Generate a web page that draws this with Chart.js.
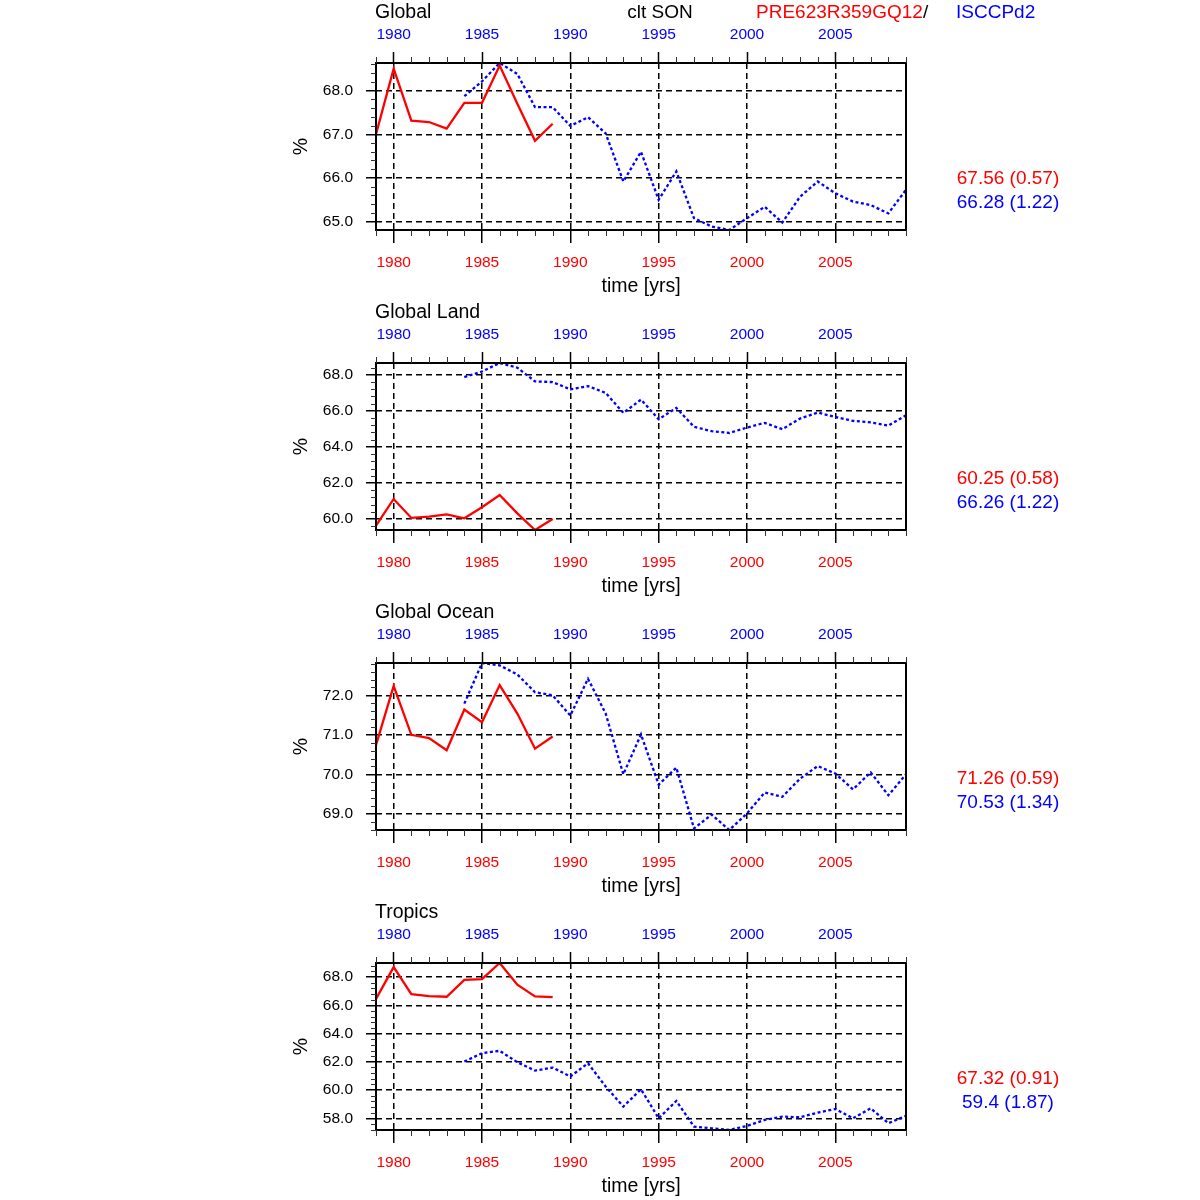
<!DOCTYPE html>
<html>
<head>
<meta charset="utf-8">
<title>clt SON</title>
<script src="https://cdn.jsdelivr.net/npm/chart.js@4.4.1/dist/chart.umd.min.js"></script>
<style>
html, body { margin: 0; padding: 0; background: #fff; }
#wrap { position: relative; width: 1200px; height: 1200px; }
#wrap canvas { position: absolute; left: 0; }
</style>
</head>
<body>
<div id="wrap"></div>
<script>
// values
const yearsModel = [1979, 1980, 1981, 1982, 1983, 1984, 1985, 1986, 1987, 1988, 1989];
const yearsObs = [1984, 1985, 1986, 1987, 1988, 1989, 1990, 1991, 1992, 1993, 1994, 1995, 1996,
                  1997, 1998, 1999, 2000, 2001, 2002, 2003, 2004, 2005, 2006, 2007, 2008, 2009];
const majorYears = [1980, 1985, 1990, 1995, 2000, 2005];

const panelTitles = ['Global', 'Global Land', 'Global Ocean', 'Tropics'];

const globalModel = [67.00, 68.50, 67.31, 67.28, 67.13, 67.72, 67.72, 68.57, 67.70, 66.85, 67.24];
const globalObs = [67.87, 68.21, 68.63, 68.38, 67.62, 67.62, 67.19, 67.39, 67.02, 65.92, 66.60, 65.50, 66.15,
                   65.08, 64.89, 64.81, 65.08, 65.34, 64.98, 65.57, 65.92, 65.65, 65.46, 65.38, 65.19, 65.73];

const landModel = [59.63, 61.11, 60.06, 60.13, 60.26, 60.04, 60.65, 61.33, 60.31, 59.39, 60.00];
const landObs = [67.87, 68.18, 68.65, 68.39, 67.63, 67.59, 67.19, 67.37, 66.99, 65.88, 66.62, 65.53, 66.16,
                 65.11, 64.87, 64.77, 65.07, 65.33, 64.98, 65.57, 65.90, 65.66, 65.44, 65.36, 65.18, 65.75];

const oceanModel = [70.74, 72.24, 71.00, 70.92, 70.61, 71.64, 71.32, 72.26, 71.54, 70.65, 70.96];
const oceanObs = [71.79, 72.82, 72.76, 72.53, 72.08, 72.00, 71.49, 72.42, 71.54, 70.00, 71.01, 69.74, 70.17,
                  68.63, 68.98, 68.59, 69.01, 69.54, 69.43, 69.89, 70.21, 70.02, 69.62, 70.05, 69.47, 70.00];

const tropicsModel = [66.46, 68.71, 66.79, 66.65, 66.61, 67.81, 67.86, 69.00, 67.46, 66.63, 66.58];
const tropicsObs = [62.02, 62.61, 62.78, 61.97, 61.38, 61.59, 60.96, 61.90, 60.25, 58.83, 60.06, 58.00, 59.23,
                    57.41, 57.29, 57.17, 57.46, 57.88, 58.12, 58.07, 58.40, 58.66, 58.00, 58.71, 57.65, 58.17];

const modelStats = ['67.56 (0.57)', '60.25 (0.58)', '71.26 (0.59)', '67.32 (0.91)'];
const obsStats = ['66.28 (1.22)', '66.26 (1.22)', '70.53 (1.34)', '59.4 (1.87)'];

const yMin = [64.81, 59.39, 68.59, 57.17];
const yMax = [68.63, 68.65, 72.82, 69.00];
const yStep = [1, 2, 1, 2];

const modelValues = [globalModel, landModel, oceanModel, tropicsModel];
const obsValues = [globalObs, landObs, oceanObs, tropicsObs];

const X_MIN = 1979, X_MAX = 2009;
const RED = '#ff0000', BLUE = '#0000ff';
const FONT = '"Liberation Sans", Arial, Helvetica, sans-serif';
const GRID_DASH = [6, 4];

Chart.defaults.font.family = FONT;

function toPoints(xs, ys) {
    return xs.map((x, i) => ({ x: x, y: ys[i] }));
}

function setYearTicks(scale) {
    scale.ticks = majorYears.map(v => ({ value: v }));
}

// frame, minor ticks, titles and stats
const panelDecor = {
    id: 'panelDecor',
    afterDraw(chart, args, opts) {
        const { ctx, chartArea: a, scales } = chart;
        ctx.save();
        ctx.setLineDash([]);
        ctx.strokeStyle = '#000';
        ctx.lineWidth = 2;
        ctx.strokeRect(a.left, a.top, a.right - a.left, a.bottom - a.top);

        ctx.lineWidth = 1;
        ctx.strokeStyle = '#333';
        ctx.beginPath();
        for (let yr = X_MIN; yr <= X_MAX; yr++) {
            if (majorYears.includes(yr)) continue;
            const px = Math.round(scales.x.getPixelForValue(yr)) + 0.5;
            ctx.moveTo(px, a.bottom);
            ctx.lineTo(px, a.bottom + 6);
            ctx.moveTo(px, a.top);
            ctx.lineTo(px, a.top - 6);
        }
        const minor = opts.step / 5;
        const first = Math.ceil(scales.y.min / minor - 1e-6);
        for (let k = first; k * minor <= scales.y.max + 1e-6; k++) {
            if (k % 5 === 0) continue;
            const py = Math.round(scales.y.getPixelForValue(k * minor)) + 0.5;
            ctx.moveTo(a.left, py);
            ctx.lineTo(a.left - 5, py);
        }
        ctx.stroke();

        ctx.font = '19.5px ' + FONT;
        ctx.textBaseline = 'alphabetic';
        ctx.textAlign = 'left';
        ctx.fillStyle = '#000';
        ctx.fillText(opts.title, 375, 18);

        if (opts.header) {
            ctx.font = '19px ' + FONT;
            ctx.textAlign = 'center';
            ctx.fillText('clt SON', 660, 18);
            ctx.textAlign = 'left';
            ctx.fillStyle = RED;
            ctx.fillText('PRE623R359GQ12', 756, 18);
            const w = ctx.measureText('PRE623R359GQ12').width;
            ctx.fillStyle = '#000';
            ctx.fillText('/', 756 + w, 18);
            ctx.fillStyle = BLUE;
            ctx.fillText('ISCCPd2', 956, 18);
        }

        ctx.font = '19px ' + FONT;
        ctx.textAlign = 'center';
        ctx.textBaseline = 'middle';
        ctx.fillStyle = RED;
        ctx.fillText(opts.modelStat, 1008, 179);
        ctx.fillStyle = BLUE;
        ctx.fillText(opts.obsStat, 1008, 203);
        ctx.restore();
    }
};

function makePanel(i) {
    const canvas = document.createElement('canvas');
    canvas.width = 1200;
    canvas.height = 300;
    canvas.style.top = (i * 300) + 'px';
    document.getElementById('wrap').appendChild(canvas);

    new Chart(canvas, {
        type: 'line',
        data: {
            datasets: [{
                label: 'PRE623R359GQ12',
                data: toPoints(yearsModel, modelValues[i]),
                borderColor: RED,
                borderWidth: 2.3,
                pointRadius: 0,
                tension: 0
            }, {
                label: 'ISCCPd2',
                data: toPoints(yearsObs, obsValues[i]),
                borderColor: BLUE,
                borderWidth: 2.3,
                borderDash: [3, 2.5],
                pointRadius: 0,
                tension: 0
            }]
        },
        options: {
            responsive: false,
            animation: false,
            devicePixelRatio: 1,
            layout: { padding: { left: 290, right: 294, top: 0, bottom: 0 } },
            plugins: {
                legend: { display: false },
                tooltip: { enabled: false },
                panelDecor: {
                    title: panelTitles[i],
                    header: i === 0,
                    step: yStep[i],
                    modelStat: modelStats[i],
                    obsStat: obsStats[i]
                }
            },
            scales: {
                x: {
                    type: 'linear',
                    position: 'bottom',
                    min: X_MIN,
                    max: X_MAX,
                    afterBuildTicks: setYearTicks,
                    afterFit: s => { s.height = 70; },
                    ticks: {
                        autoSkip: false,
                        maxRotation: 0,
                        color: RED,
                        font: { size: 15.5 },
                        padding: 10,
                        callback: v => String(v)
                    },
                    grid: { color: '#000', lineWidth: 1.5, tickLength: 13, tickColor: '#000', tickWidth: 1.5, tickBorderDash: [] },
                    border: { display: false, dash: GRID_DASH },
                    title: {
                        display: true,
                        text: 'time [yrs]',
                        color: '#000',
                        font: { size: 19.5 },
                        padding: { top: 0, bottom: 2 }
                    }
                },
                xTop: {
                    type: 'linear',
                    position: 'top',
                    min: X_MIN,
                    max: X_MAX,
                    afterBuildTicks: setYearTicks,
                    afterFit: s => { s.height = 63; },
                    ticks: {
                        autoSkip: false,
                        maxRotation: 0,
                        color: BLUE,
                        font: { size: 15.5 },
                        padding: 8,
                        callback: v => String(v)
                    },
                    grid: { drawOnChartArea: false, tickLength: 11, tickColor: '#000', tickWidth: 1.5 },
                    border: { display: false }
                },
                y: {
                    type: 'linear',
                    position: 'left',
                    min: yMin[i],
                    max: yMax[i],
                    afterFit: s => { s.width = 86; },
                    ticks: {
                        stepSize: yStep[i],
                        includeBounds: false,
                        color: '#000',
                        font: { size: 15.5 },
                        padding: 13,
                        callback: v => v.toFixed(1)
                    },
                    grid: { color: '#000', lineWidth: 1.5, tickLength: 10, tickColor: '#000', tickWidth: 1.5, tickBorderDash: [] },
                    border: { display: false, dash: GRID_DASH },
                    title: {
                        display: true,
                        text: '%',
                        color: '#000',
                        font: { size: 19.5 },
                        padding: { top: 0, bottom: 0 }
                    }
                }
            }
        },
        plugins: [panelDecor]
    });
}

for (let i = 0; i < 4; i++) makePanel(i);
</script>
</body>
</html>
